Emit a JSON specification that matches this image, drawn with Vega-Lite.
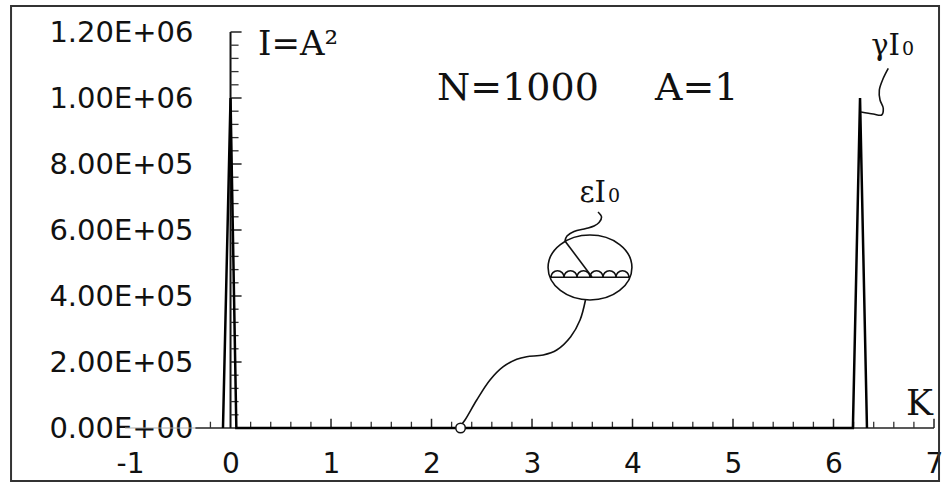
{
  "$schema": "https://vega.github.io/schema/vega-lite/v6.json",
  "width": 809,
  "height": 396,
  "autosize": {"type": "none"},
  "padding": {"left": 125, "top": 32, "right": 8, "bottom": 55},
  "background": "white",
  "config": {"view": {"stroke": null}, "axis": {"grid": false}},
  "datasets": {
    "curve": [
      {"K": -0.075, "I": 0},
      {"K": 0, "I": 1000000},
      {"K": 0.058, "I": 0},
      {"K": 6.193, "I": 0},
      {"K": 6.264, "I": 1000000},
      {"K": 6.333, "I": 0}
    ],
    "xminor": [
      {"K": -0.2}, {"K": 0.2}, {"K": 0.4}, {"K": 0.6}, {"K": 0.8}, {"K": 1.2}, {"K": 1.4}, {"K": 1.6}, {"K": 1.8},
      {"K": 2.2}, {"K": 2.4}, {"K": 2.6}, {"K": 2.8}, {"K": 3.2}, {"K": 3.4}, {"K": 3.6}, {"K": 3.8},
      {"K": 4.2}, {"K": 4.4}, {"K": 4.6}, {"K": 4.8}, {"K": 5.2}, {"K": 5.4}, {"K": 5.6}, {"K": 5.8},
      {"K": 6.2}, {"K": 6.4}, {"K": 6.6}, {"K": 6.8}
    ],
    "xmajor": [{"K": 1}, {"K": 2}, {"K": 3}, {"K": 4}, {"K": 5}, {"K": 6}, {"K": 7}],
    "yminor": [
      {"I": 40000}, {"I": 80000}, {"I": 120000}, {"I": 160000}, {"I": 240000}, {"I": 280000}, {"I": 320000}, {"I": 360000},
      {"I": 440000}, {"I": 480000}, {"I": 520000}, {"I": 560000}, {"I": 640000}, {"I": 680000}, {"I": 720000}, {"I": 760000},
      {"I": 840000}, {"I": 880000}, {"I": 920000}, {"I": 960000}, {"I": 1040000}, {"I": 1080000}, {"I": 1120000}, {"I": 1160000}
    ],
    "ymajor": [{"I": 200000}, {"I": 400000}, {"I": 600000}, {"I": 800000}, {"I": 1000000}, {"I": 1200000}],
    "leaders": [
      {"id": "b", "i": 1, "K": 3.532, "I": 387879},
      {"id": "b", "i": 2, "K": 3.478, "I": 327273},
      {"id": "b", "i": 3, "K": 3.385, "I": 276666},
      {"id": "b", "i": 4, "K": 3.246, "I": 236363},
      {"id": "b", "i": 5, "K": 3.112, "I": 221212},
      {"id": "b", "i": 6, "K": 2.947, "I": 216060},
      {"id": "b", "i": 7, "K": 2.848, "I": 208182},
      {"id": "b", "i": 8, "K": 2.714, "I": 185757},
      {"id": "b", "i": 9, "K": 2.582, "I": 145454},
      {"id": "b", "i": 10, "K": 2.45, "I": 84848},
      {"id": "b", "i": 11, "K": 2.333, "I": 24242},
      {"id": "b", "i": 12, "K": 2.295, "I": 9091},
      {"id": "e", "i": 1, "K": 3.657, "I": 654545},
      {"id": "e", "i": 2, "K": 3.692, "I": 639393},
      {"id": "e", "i": 3, "K": 3.667, "I": 622727},
      {"id": "e", "i": 4, "K": 3.617, "I": 612121},
      {"id": "e", "i": 5, "K": 3.537, "I": 604545},
      {"id": "e", "i": 6, "K": 3.418, "I": 595454},
      {"id": "e", "i": 7, "K": 3.348, "I": 581818},
      {"id": "e", "i": 8, "K": 3.328, "I": 566667},
      {"id": "g", "i": 1, "K": 6.545, "I": 1090000},
      {"id": "g", "i": 2, "K": 6.495, "I": 1059697},
      {"id": "g", "i": 3, "K": 6.456, "I": 1024242},
      {"id": "g", "i": 4, "K": 6.463, "I": 993939},
      {"id": "g", "i": 5, "K": 6.495, "I": 968788},
      {"id": "g", "i": 6, "K": 6.479, "I": 948485},
      {"id": "g", "i": 7, "K": 6.396, "I": 951515},
      {"id": "g", "i": 8, "K": 6.274, "I": 957576}
    ]
  },
  "resolve": {"axis": {"x": "independent", "y": "independent"}},
  "layer": [
    {
      "data": {"values": [{}]},
      "mark": {"type": "rule", "color": "#aaa", "strokeWidth": 1.2},
      "encoding": {
        "x": {"datum": -1.05, "type": "quantitative", "scale": {"domain": [-1.05, 7], "nice": false, "zero": false}, "axis": null},
        "x2": {"datum": -0.35},
        "y": {"datum": 0, "type": "quantitative", "scale": {"domain": [0, 1200000], "nice": false, "zero": false}, "axis": null}
      }
    },
    {
      "data": {"values": [{}]},
      "mark": {"type": "rule", "color": "#222", "strokeWidth": 1.5},
      "encoding": {
        "x": {"datum": -0.35, "type": "quantitative", "scale": {"domain": [-1.05, 7], "nice": false, "zero": false}, "axis": null},
        "x2": {"datum": 7},
        "y": {"datum": 0, "type": "quantitative", "scale": {"domain": [0, 1200000], "nice": false, "zero": false}, "axis": null}
      }
    },
    {
      "data": {"values": [{}]},
      "mark": {"type": "rule", "color": "#111", "strokeWidth": 2},
      "encoding": {
        "x": {"datum": 0, "type": "quantitative", "scale": {"domain": [-1.05, 7], "nice": false, "zero": false}, "axis": null},
        "y": {"datum": 0, "type": "quantitative", "scale": {"domain": [0, 1200000], "nice": false, "zero": false}, "axis": null},
        "y2": {"datum": 1200000}
      }
    },
    {
      "data": {"name": "xminor"},
      "mark": {"type": "rule", "color": "#333", "strokeWidth": 1.3},
      "encoding": {
        "x": {"field": "K", "type": "quantitative", "scale": {"domain": [-1.05, 7], "nice": false, "zero": false}, "axis": null},
        "y": {"datum": 0, "type": "quantitative", "scale": {"domain": [0, 1200000], "nice": false, "zero": false}, "axis": null},
        "y2": {"datum": 19000}
      }
    },
    {
      "data": {"name": "xmajor"},
      "mark": {"type": "rule", "color": "#222", "strokeWidth": 1.5},
      "encoding": {
        "x": {"field": "K", "type": "quantitative", "scale": {"domain": [-1.05, 7], "nice": false, "zero": false}, "axis": null},
        "y": {"datum": 0, "type": "quantitative", "scale": {"domain": [0, 1200000], "nice": false, "zero": false}, "axis": null},
        "y2": {"datum": 28000}
      }
    },
    {
      "data": {"name": "yminor"},
      "mark": {"type": "rule", "color": "#333", "strokeWidth": 1.3},
      "encoding": {
        "y": {"field": "I", "type": "quantitative", "scale": {"domain": [0, 1200000], "nice": false, "zero": false}, "axis": null},
        "x": {"datum": 0, "type": "quantitative", "scale": {"domain": [-1.05, 7], "nice": false, "zero": false}, "axis": null},
        "x2": {"datum": 0.08}
      }
    },
    {
      "data": {"name": "ymajor"},
      "mark": {"type": "rule", "color": "#222", "strokeWidth": 1.5},
      "encoding": {
        "y": {"field": "I", "type": "quantitative", "scale": {"domain": [0, 1200000], "nice": false, "zero": false}, "axis": null},
        "x": {"datum": 0, "type": "quantitative", "scale": {"domain": [-1.05, 7], "nice": false, "zero": false}, "axis": null},
        "x2": {"datum": 0.11}
      }
    },
    {
      "data": {"name": "curve"},
      "mark": {"type": "line", "color": "black", "strokeWidth": 2.5},
      "encoding": {
        "x": {
          "field": "K", "type": "quantitative",
          "scale": {"domain": [-1.05, 7], "nice": false, "zero": false},
          "axis": {
            "orient": "bottom", "title": null, "domain": false, "ticks": false,
            "values": [-1, 0, 1, 2, 3, 4, 5, 6, 7],
            "labelExpr": "datum.value < 0 ? '-' + abs(datum.value) : '' + datum.value",
            "labelFlush": false, "labelOverlap": false, "labelPadding": 22,
            "labelFont": "DejaVu Sans", "labelFontSize": 28, "labelColor": "#111"
          }
        },
        "y": {
          "field": "I", "type": "quantitative",
          "scale": {"domain": [0, 1200000], "nice": false, "zero": false},
          "axis": {
            "orient": "left", "offset": -71, "title": null, "domain": false, "ticks": false,
            "values": [0, 200000, 400000, 600000, 800000, 1000000, 1200000],
            "labelExpr": "replace(upper(format(datum.value, '.2e')), 'E+', 'E+0')",
            "labelFlush": false, "labelOverlap": false, "labelPadding": 3,
            "labelFont": "DejaVu Sans", "labelFontSize": 29, "labelColor": "#111"
          }
        }
      }
    },
    {
      "data": {"name": "leaders"},
      "mark": {"type": "line", "color": "#111", "strokeWidth": 1.6, "interpolate": "catmull-rom"},
      "encoding": {
        "x": {"field": "K", "type": "quantitative", "scale": {"domain": [-1.05, 7], "nice": false, "zero": false}, "axis": null},
        "y": {"field": "I", "type": "quantitative", "scale": {"domain": [0, 1200000], "nice": false, "zero": false}, "axis": null},
        "detail": {"field": "id"},
        "order": {"field": "i"}
      }
    },
    {
      "data": {"values": [{}]},
      "mark": {"type": "rule", "color": "#111", "strokeWidth": 1.6},
      "encoding": {
        "x": {"datum": 3.328, "type": "quantitative", "scale": {"domain": [-1.05, 7], "nice": false, "zero": false}, "axis": null},
        "x2": {"datum": 3.597},
        "y": {"datum": 566667, "type": "quantitative", "scale": {"domain": [0, 1200000], "nice": false, "zero": false}, "axis": null},
        "y2": {"datum": 457575}
      }
    },
    {
      "data": {"values": [{}]},
      "mark": {
        "type": "point", "filled": false, "stroke": "#111", "strokeWidth": 1.6, "opacity": 1, "size": 4225,
        "shape": "M-1.29,0A1.29,1,0,0,1,1.29,0A1.29,1,0,0,1,-1.29,0Z M-1.235,0.3L1.235,0.3 M-1.2,0.3A0.2,0.2,0,0,1,-0.8,0.3A0.2,0.2,0,0,1,-0.4,0.3A0.2,0.2,0,0,1,0,0.3A0.2,0.2,0,0,1,0.4,0.3A0.2,0.2,0,0,1,0.8,0.3A0.2,0.2,0,0,1,1.2,0.3"
      },
      "encoding": {
        "x": {"datum": 3.577, "type": "quantitative", "scale": {"domain": [-1.05, 7], "nice": false, "zero": false}, "axis": null},
        "y": {"datum": 486364, "type": "quantitative", "scale": {"domain": [0, 1200000], "nice": false, "zero": false}, "axis": null}
      }
    },
    {
      "data": {"values": [{}]},
      "mark": {"type": "point", "shape": "circle", "filled": true, "fill": "white", "stroke": "#111", "strokeWidth": 1.5, "opacity": 1, "size": 90},
      "encoding": {
        "x": {"datum": 2.289, "type": "quantitative", "scale": {"domain": [-1.05, 7], "nice": false, "zero": false}, "axis": null},
        "y": {"datum": 0, "type": "quantitative", "scale": {"domain": [0, 1200000], "nice": false, "zero": false}, "axis": null}
      }
    },
    {
      "data": {"values": [{}]},
      "mark": {"type": "text", "text": "I=A²", "font": "DejaVu Serif", "fontSize": 34, "align": "left", "baseline": "alphabetic", "color": "#111"},
      "encoding": {
        "x": {"datum": 0.274, "type": "quantitative", "scale": {"domain": [-1.05, 7], "nice": false, "zero": false}, "axis": null},
        "y": {"datum": 1130303, "type": "quantitative", "scale": {"domain": [0, 1200000], "nice": false, "zero": false}, "axis": null}
      }
    },
    {
      "data": {"values": [{}]},
      "mark": {"type": "text", "text": "N=1000", "font": "DejaVu Serif", "fontSize": 38, "align": "left", "baseline": "alphabetic", "color": "#111"},
      "encoding": {
        "x": {"datum": 2.055, "type": "quantitative", "scale": {"domain": [-1.05, 7], "nice": false, "zero": false}, "axis": null},
        "y": {"datum": 993939, "type": "quantitative", "scale": {"domain": [0, 1200000], "nice": false, "zero": false}, "axis": null}
      }
    },
    {
      "data": {"values": [{}]},
      "mark": {"type": "text", "text": "A=1", "font": "DejaVu Serif", "fontSize": 38, "align": "left", "baseline": "alphabetic", "color": "#111"},
      "encoding": {
        "x": {"datum": 4.224, "type": "quantitative", "scale": {"domain": [-1.05, 7], "nice": false, "zero": false}, "axis": null},
        "y": {"datum": 993939, "type": "quantitative", "scale": {"domain": [0, 1200000], "nice": false, "zero": false}, "axis": null}
      }
    },
    {
      "data": {"values": [{}]},
      "mark": {"type": "text", "text": "γI", "font": "DejaVu Serif", "fontSize": 29, "align": "right", "baseline": "alphabetic", "color": "#111"},
      "encoding": {
        "x": {"datum": 6.662, "type": "quantitative", "scale": {"domain": [-1.05, 7], "nice": false, "zero": false}, "axis": null},
        "y": {"datum": 1130303, "type": "quantitative", "scale": {"domain": [0, 1200000], "nice": false, "zero": false}, "axis": null}
      }
    },
    {
      "data": {"values": [{}]},
      "mark": {"type": "text", "text": "0", "font": "DejaVu Serif", "fontSize": 19, "align": "left", "baseline": "alphabetic", "color": "#111"},
      "encoding": {
        "x": {"datum": 6.682, "type": "quantitative", "scale": {"domain": [-1.05, 7], "nice": false, "zero": false}, "axis": null},
        "y": {"datum": 1130303, "type": "quantitative", "scale": {"domain": [0, 1200000], "nice": false, "zero": false}, "axis": null}
      }
    },
    {
      "data": {"values": [{}]},
      "mark": {"type": "text", "text": "εI", "font": "DejaVu Serif", "fontSize": 29, "align": "right", "baseline": "alphabetic", "color": "#111"},
      "encoding": {
        "x": {"datum": 3.736, "type": "quantitative", "scale": {"domain": [-1.05, 7], "nice": false, "zero": false}, "axis": null},
        "y": {"datum": 685757, "type": "quantitative", "scale": {"domain": [0, 1200000], "nice": false, "zero": false}, "axis": null}
      }
    },
    {
      "data": {"values": [{}]},
      "mark": {"type": "text", "text": "0", "font": "DejaVu Serif", "fontSize": 19, "align": "left", "baseline": "alphabetic", "color": "#111"},
      "encoding": {
        "x": {"datum": 3.756, "type": "quantitative", "scale": {"domain": [-1.05, 7], "nice": false, "zero": false}, "axis": null},
        "y": {"datum": 685757, "type": "quantitative", "scale": {"domain": [0, 1200000], "nice": false, "zero": false}, "axis": null}
      }
    },
    {
      "data": {"values": [{}]},
      "mark": {"type": "text", "text": "K", "font": "DejaVu Serif", "fontSize": 36, "align": "right", "baseline": "alphabetic", "color": "#111"},
      "encoding": {
        "x": {"datum": 6.99, "type": "quantitative", "scale": {"domain": [-1.05, 7], "nice": false, "zero": false}, "axis": null},
        "y": {"datum": 39394, "type": "quantitative", "scale": {"domain": [0, 1200000], "nice": false, "zero": false}, "axis": null}
      }
    },
    {
      "data": {"values": [{}]},
      "mark": {"type": "rect", "filled": false, "stroke": "#333", "strokeWidth": 2},
      "encoding": {
        "x": {"datum": -2.184, "type": "quantitative", "scale": {"domain": [-1.05, 7], "nice": false, "zero": false}, "axis": null},
        "x2": {"datum": 7.05},
        "y": {"datum": 1278787, "type": "quantitative", "scale": {"domain": [0, 1200000], "nice": false, "zero": false}, "axis": null},
        "y2": {"datum": -160606}
      }
    }
  ]
}
